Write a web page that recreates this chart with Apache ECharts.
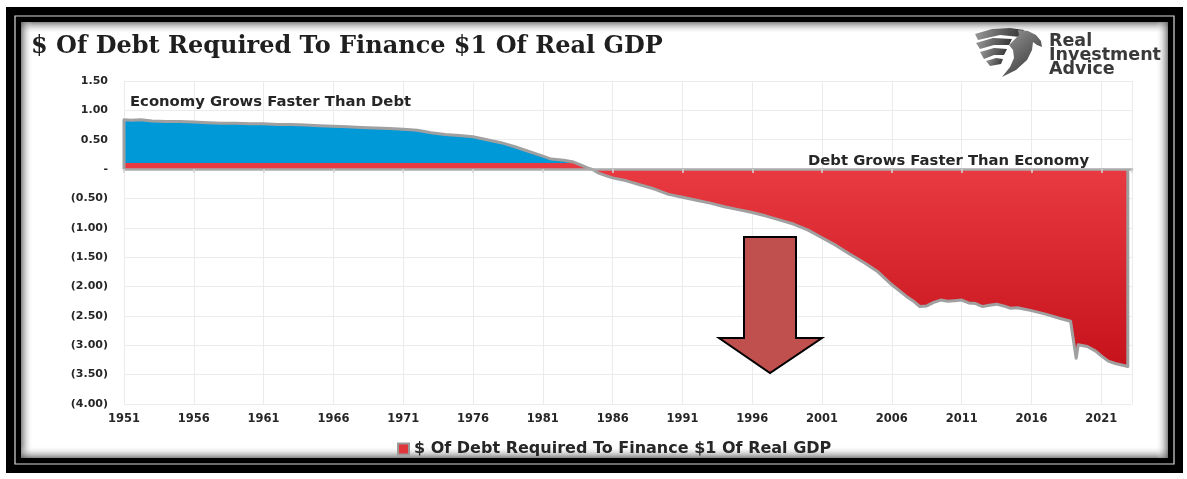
<!DOCTYPE html>
<html>
<head>
<meta charset="utf-8">
<script src="https://cdn.jsdelivr.net/npm/echarts@6/dist/echarts.min.js"></script>
<style>
  html, body { margin: 0; padding: 0; background: #ffffff; }
  #chart { width: 1187px; height: 479px; }
</style>
</head>
<body>
<div id="chart"></div>
<script>
// Chart text
const titleText = '$ Of Debt Required To Finance $1 Of Real GDP';
const seriesName = '$ Of Debt Required To Finance $1 Of Real GDP';
const noteAbove = 'Economy Grows Faster Than Debt';
const noteBelow = 'Debt Grows Faster Than Economy';
const logoLines = ['Real', 'Investment', 'Advice'];

// X tick labels (every five years)
const xTickYears = [1951, 1956, 1961, 1966, 1971, 1976, 1981, 1986, 1991, 1996, 2001, 2006, 2011, 2016, 2021];

// Series: year (decimal) and dollars of debt per $1 of real GDP
const years = [
  1951, 1951.5, 1952.2, 1953, 1954, 1955, 1956, 1957, 1958, 1959,
  1960, 1961, 1962, 1963, 1964, 1965, 1966, 1967, 1968, 1969,
  1970, 1971, 1972, 1973, 1974, 1975, 1976, 1977, 1978, 1979,
  1980, 1981, 1981.6, 1982.5, 1983.2, 1983.7, 1984.2, 1984.6, 1985, 1985.6,
  1986, 1987, 1988, 1989, 1990, 1991, 1992, 1993, 1994, 1995,
  1996, 1997, 1998, 1999, 2000, 2001, 2002, 2003, 2004, 2005,
  2006, 2007, 2007.5, 2008, 2008.5, 2009, 2009.5, 2010, 2010.5, 2011,
  2011.5, 2012, 2012.5, 2013, 2013.5, 2014, 2014.5, 2015, 2016, 2017,
  2018, 2018.8, 2019.2, 2019.35, 2020, 2020.6, 2021, 2021.5, 2022, 2022.9
];
const values = [
  0.84, 0.83, 0.84, 0.82, 0.81, 0.81, 0.80, 0.79, 0.78, 0.78,
  0.77, 0.77, 0.76, 0.76, 0.75, 0.74, 0.73, 0.72, 0.71, 0.70,
  0.69, 0.68, 0.66, 0.62, 0.59, 0.57, 0.55, 0.50, 0.45, 0.38,
  0.30, 0.22, 0.17, 0.15, 0.12, 0.07, 0.02, -0.01, -0.07, -0.12,
  -0.15, -0.20, -0.27, -0.34, -0.43, -0.48, -0.53, -0.58, -0.64, -0.69,
  -0.74, -0.80, -0.87, -0.94, -1.04, -1.17, -1.30, -1.45, -1.59, -1.75,
  -1.97, -2.16, -2.24, -2.34, -2.33, -2.27, -2.23, -2.25, -2.24, -2.23,
  -2.28, -2.29, -2.34, -2.32, -2.30, -2.33, -2.37, -2.36, -2.41, -2.47,
  -2.54, -2.59, -3.22, -2.99, -3.02, -3.10, -3.18, -3.27, -3.31, -3.36
];

// Thin red strip kept along the zero line under the positive (blue) part
const redStripHeight = 0.1;

const chart = echarts.init(document.getElementById('chart'), null, { renderer: 'canvas' });

// Closed outline: start and end on the zero line so the border draws the vertical edges
const outline = [[years[0], 0]]
  .concat(years.map((y, i) => [y, values[i]]))
  .concat([[years[years.length - 1], 0]]);

// Area fill: blue above the strip, red below it, darkening downward
const vTop = Math.max(...values, 0);
const vBottom = Math.min(...values, 0);
const stripStop = (vTop - redStripHeight) / (vTop - vBottom);
const zeroStop = vTop / (vTop - vBottom);
const areaFill = new echarts.graphic.LinearGradient(0, 0, 0, 1, [
  { offset: 0, color: '#0099d8' },
  { offset: stripStop, color: '#0099d8' },
  { offset: stripStop + 0.0001, color: '#e83a41' },
  { offset: zeroStop, color: '#e93a41' },
  { offset: 1, color: '#c6121b' }
]);

function yLabel(v) {
  if (Math.abs(v) < 1e-9) return '-';
  if (v > 0) return v.toFixed(2);
  return '(' + (-v).toFixed(2) + ')';
}

const labelFont = { fontFamily: 'DejaVu Sans', fontWeight: 'bold', color: '#262626' };

// Inner-shadow strips along the framed panel
const panel = { x: 21, y: 22, w: 1147, h: 436 };
const shadowSize = 12;
function shadowStrip(x, y, w, h, gx1, gy1, gx2, gy2) {
  return {
    type: 'rect', silent: true, z: 1,
    shape: { x, y, width: w, height: h },
    style: {
      fill: new echarts.graphic.LinearGradient(gx1, gy1, gx2, gy2, [
        { offset: 0, color: 'rgba(90,90,90,0.75)' },
        { offset: 1, color: 'rgba(255,255,255,0)' }
      ])
    }
  };
}

// Simplified eagle emblem (feathers and head)
const eagleShapes = [
  [[975, 34], [992, 29], [1010, 28], [1024, 30], [1020, 37], [1000, 35], [978, 40]],
  [[976, 43], [993, 38], [1012, 39], [1009, 45], [994, 45], [980, 49]],
  [[980, 52], [994, 48], [1007, 49], [1004, 55], [994, 55], [984, 59]],
  [[986, 61], [996, 58], [1003, 59], [1001, 64], [990, 66]],
  [[1018, 30], [1028, 31], [1036, 35], [1041, 41], [1042, 47], [1037, 45], [1033, 42],
   [1032, 50], [1027, 60], [1016, 70], [1002, 77], [1010, 67], [1014, 58], [1013, 50],
   [1009, 45], [1014, 40], [1019, 35]]
];

const option = {
  backgroundColor: '#ffffff',
  animation: false,
  grid: { left: 124, right: 55, top: 81, bottom: 75 },
  legend: {
    left: 392, top: 436,
    itemWidth: 11, itemHeight: 11, itemGap: 6,
    textStyle: { fontFamily: 'DejaVu Sans', fontWeight: 'bold', fontSize: 16, color: '#262626' },
    data: [{
      name: seriesName, icon: 'rect',
      itemStyle: { color: '#e0353b', borderColor: '#9a9a9a', borderWidth: 2 }
    }]
  },
  xAxis: [
    {
      type: 'value', min: 1951, max: 2023.2, interval: 5,
      position: 'bottom',
      axisLine: { show: false, onZero: false },
      axisTick: { show: false },
      splitLine: { show: true, lineStyle: { color: '#ebebeb', width: 1 } },
      axisLabel: Object.assign({
        fontSize: 11.5, margin: 9, showMaxLabel: false,
        formatter: v => (xTickYears.indexOf(Math.round(v)) >= 0 && Math.abs(v - Math.round(v)) < 1e-6) ? String(Math.round(v)) : ''
      }, labelFont)
    },
    {
      // Zero baseline with five-year ticks
      type: 'value', min: 1951, max: 2023.2, interval: 5,
      position: 'top', z: 5,
      axisLine: { show: true, onZero: true, lineStyle: { color: '#ababab', width: 2.5 } },
      axisTick: { show: true, inside: true, length: 4, lineStyle: { color: '#d6d6d6', width: 1.5 } },
      axisLabel: { show: false },
      splitLine: { show: false }
    }
  ],
  yAxis: {
    type: 'value', min: -4, max: 1.5, interval: 0.5,
    axisLine: { show: false },
    axisTick: { show: false },
    splitLine: { show: true, lineStyle: { color: '#ebebeb', width: 1 } },
    axisLabel: Object.assign({ fontSize: 11, margin: 16, formatter: yLabel }, labelFont)
  },
  series: [{
    name: seriesName,
    type: 'line',
    xAxisIndex: 0,
    data: outline,
    showSymbol: false,
    symbol: 'none',
    smooth: false,
    z: 3,
    itemStyle: { color: '#e0353b' },
    lineStyle: { color: '#a0a0a0', width: 3, join: 'round' },
    areaStyle: { color: areaFill, opacity: 1, origin: 0 }
  }],
  graphic: [
    // Black double frame
    { type: 'rect', silent: true, z: 0, shape: { x: 6, y: 7, width: 1177, height: 466 }, style: { fill: '#000000' } },
    { type: 'rect', silent: true, z: 0, shape: { x: 15, y: 16, width: 1159, height: 448 }, style: { fill: 'none', stroke: '#d9d9d9', lineWidth: 1.2 } },
    { type: 'rect', silent: true, z: 0, shape: { x: panel.x, y: panel.y, width: panel.w, height: panel.h }, style: { fill: '#ffffff' } },
    shadowStrip(panel.x, panel.y, panel.w, shadowSize, 0, 0, 0, 1),
    shadowStrip(panel.x, panel.y, shadowSize, panel.h, 0, 0, 1, 0),
    shadowStrip(panel.x, panel.y + panel.h - shadowSize, panel.w, shadowSize, 0, 1, 0, 0),
    shadowStrip(panel.x + panel.w - shadowSize, panel.y, shadowSize, panel.h, 1, 0, 0, 0),
    // Title
    {
      type: 'text', left: 31, top: 35, z: 10,
      style: { text: titleText, fontFamily: 'DejaVu Serif', fontWeight: 'bold', fontSize: 24, fill: '#1f1f1f' }
    },
    // Region notes
    {
      type: 'text', left: 130, top: 95, z: 10,
      style: { text: noteAbove, fontFamily: 'DejaVu Sans', fontWeight: 'bold', fontSize: 14.8, fill: '#262626' }
    },
    {
      type: 'text', left: 808, top: 154, z: 10,
      style: { text: noteBelow, fontFamily: 'DejaVu Sans', fontWeight: 'bold', fontSize: 14.8, fill: '#262626' }
    },
    // Down arrow
    {
      type: 'polygon', z: 10, silent: true,
      shape: { points: [[744, 237], [796, 237], [796, 338], [822, 338], [770, 373], [719, 338], [744, 338]] },
      style: { fill: '#c0504d', stroke: '#000000', lineWidth: 2, lineJoin: 'miter' }
    }
  ].concat(eagleShapes.map(pts => ({
    type: 'polygon', z: 10, silent: true,
    shape: { points: pts },
    style: {
      fill: new echarts.graphic.LinearGradient(0, 0, 1, 1, [
        { offset: 0, color: '#9a9a9a' },
        { offset: 1, color: '#2e2e2e' }
      ])
    }
  }))).concat([
    // Logo wordmark
    {
      type: 'text', left: 1049, top: 32, z: 10,
      style: {
        text: logoLines.join('\n'), fontFamily: 'DejaVu Sans', fontWeight: 'bold',
        fontSize: 17.5, lineHeight: 14, fill: '#3a3a3a'
      }
    }
  ])
};

chart.setOption(option);
</script>
</body>
</html>
